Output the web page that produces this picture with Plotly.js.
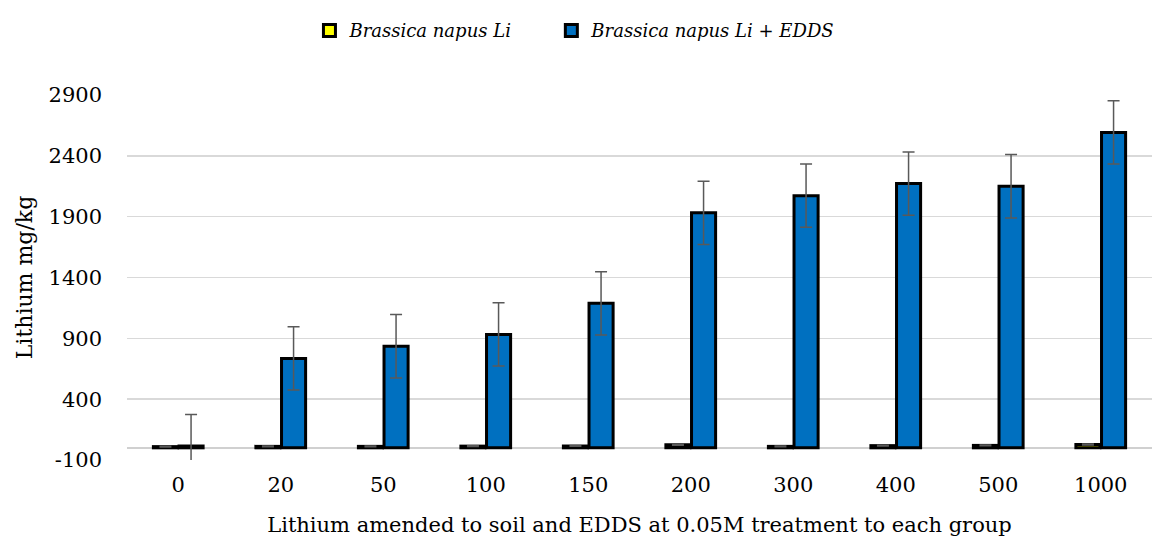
<!DOCTYPE html>
<html>
<head>
<meta charset="utf-8">
<script src="https://cdn.plot.ly/plotly-3.0.1.min.js"></script>
<style>html,body{margin:0;padding:0;background:#fff;}#chart{width:1164px;height:539px;}</style>
</head>
<body>
<div id="chart"></div>
<script>
var categories = ["0","20","50","100","150","200","300","400","500","1000"];
var liValues = [10, 12, 12, 14, 15, 25, 12, 18, 20, 28];
var liErrors = [3, 3, 3, 3, 3, 4, 3, 3, 3, 4];
var eddsValues = [15, 735, 835, 932, 1188, 1932, 2072, 2172, 2150, 2592];
var eddsErrors = [260, 260, 260, 260, 260, 260, 260, 260, 260, 260];
var seriesNames = ["Brassica napus Li", "Brassica napus Li + EDDS"];
var yTicks = [-100, 400, 900, 1400, 1900, 2400, 2900];

var serif = "DejaVu Serif, Liberation Serif, serif";

var traces = [
  {
    type: "bar", x: categories, y: liValues, name: seriesNames[0], legend: "legend",
    marker: {color: "#FFFF00", line: {color: "#000000", width: 3}},
    error_y: {type: "data", array: liErrors, visible: true, color: "#595959", thickness: 1.5, width: 6}
  },
  {
    type: "bar", x: categories, y: eddsValues, name: seriesNames[1], legend: "legend2",
    marker: {color: "#0070C0", line: {color: "#000000", width: 3}},
    error_y: {type: "data", array: eddsErrors, visible: true, color: "#595959", thickness: 1.5, width: 6}
  }
];

var legendBase = {
  orientation: "h", xref: "paper", xanchor: "left",
  yref: "container", y: 0.943, yanchor: "middle",
  font: {family: serif, size: 18, style: "italic"},
  itemwidth: 30
};

var layout = {
  width: 1164, height: 539,
  margin: {l: 127, r: 12, t: 95, b: 79},
  paper_bgcolor: "#ffffff", plot_bgcolor: "#ffffff",
  font: {family: serif, color: "#000000", size: 21},
  barmode: "group",
  bargap: 0.5,
  bargroupgap: 0.06,
  showlegend: true,
  legend: Object.assign({}, legendBase, {x: 0.178}),
  legend2: Object.assign({}, legendBase, {x: 0.414}),
  xaxis: {
    type: "category",
    tickfont: {family: serif, size: 21},
    showgrid: false, showline: false, ticks: "", ticklabelstandoff: 10,
    title: {text: "Lithium amended to soil and EDDS at 0.05M treatment to each group", font: {family: serif, size: 21}, standoff: 21}
  },
  yaxis: {
    range: [-100, 2900],
    tickvals: yTicks,
    ticktext: yTicks.map(String),
    tickfont: {family: serif, size: 21},
    showgrid: true, gridcolor: "#d9d9d9", gridwidth: 1.5,
    zeroline: true, zerolinecolor: "#d0d0d0", zerolinewidth: 2.5,
    showline: false, ticks: "", ticklabelstandoff: 24,
    title: {text: "Lithium mg/kg", font: {family: serif, size: 22}, standoff: 9}
  }
};

Plotly.newPlot("chart", traces, layout, {displayModeBar: false, staticPlot: true});
</script>
</body>
</html>
